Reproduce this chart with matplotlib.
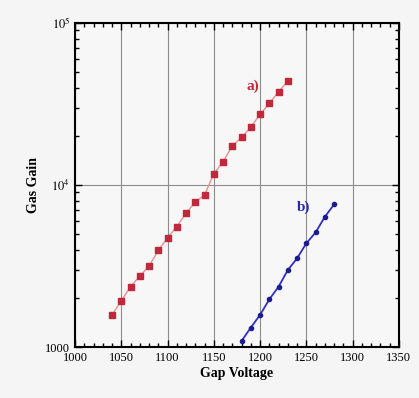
import numpy as np
import matplotlib
matplotlib.use("Agg")
import matplotlib.pyplot as plt
from matplotlib.ticker import FixedLocator, FixedFormatter, LogLocator, NullFormatter

# gas gain vs gap voltage
volt_a = [1040, 1050, 1060, 1070, 1080, 1090, 1100, 1110, 1120, 1130,
          1140, 1150, 1160, 1170, 1180, 1190, 1200, 1210, 1220, 1230]
gain_a = [1580, 1930, 2360, 2740, 3160, 3950, 4730, 5530, 6720, 7850,
          8680, 11740, 13930, 17410, 19690, 22800, 27320, 31940, 37660, 43850]

volt_b = [1180, 1190, 1200, 1210, 1220, 1230, 1240, 1250, 1260, 1270, 1280]
gain_b = [1090, 1320, 1580, 1970, 2360, 2990, 3530, 4370, 5100, 6370, 7600]

x_ticks = [1000, 1050, 1100, 1150, 1200, 1250, 1300, 1350]
y_ticks = [1000, 10000, 100000]
y_labels = ["1000", r"$10^4$", r"$10^5$"]

plt.rcParams['font.family'] = ['Liberation Serif', 'DejaVu Serif']
plt.rcParams['mathtext.fontset'] = 'stix'

fig = plt.figure(figsize=(4.19, 3.98), dpi=100)
fig.patch.set_facecolor('#f5f5f5')
ax = fig.add_axes([0.179, 0.128, 0.773, 0.814])
ax.set_facecolor('#f7f7f7')

ax.plot(volt_a, gain_a, '-', color='#e89090', lw=1.0, zorder=2)
ax.plot(volt_a, gain_a, 's', color='#c0283c', ms=4, mec='#c0283c', zorder=3)
ax.plot(volt_b, gain_b, '-', color='#3030c0', lw=1.3, zorder=2)
ax.plot(volt_b, gain_b, 'o', color='#1c1c90', ms=3, zorder=3)

ax.set_yscale('log')
ax.set_xlim(1000, 1350)
ax.set_ylim(1000, 100000)

ax.xaxis.set_major_locator(FixedLocator(x_ticks))
ax.xaxis.set_minor_locator(FixedLocator(np.arange(1000, 1351, 10)))
ax.yaxis.set_major_locator(FixedLocator(y_ticks))
ax.yaxis.set_major_formatter(FixedFormatter(y_labels))
ax.yaxis.set_minor_locator(LogLocator(base=10, subs=np.arange(2, 10)))
ax.yaxis.set_minor_formatter(NullFormatter())

ax.grid(True, which='major', color='#8c8c8c', lw=0.8)
ax.tick_params(which='both', direction='in', top=True, right=True,
               labelsize=9, width=1.0)
ax.tick_params(which='major', length=5)
ax.tick_params(which='minor', length=3)
for s in ax.spines.values():
    s.set_linewidth(1.5)

ax.text(1185, 41000, 'a)', color='#c0283c', fontsize=11, fontweight='bold',
        va='center', ha='left')
ax.text(1240, 7300, 'b)', color='#2828b0', fontsize=11, fontweight='bold',
        va='center', ha='left')

ax.set_xlabel('Gap Voltage', fontsize=10, fontweight='bold', labelpad=2)
ax.set_ylabel('Gas Gain', fontsize=10, fontweight='bold', labelpad=4)

fig.savefig('out.png', dpi=100, facecolor=fig.get_facecolor())
